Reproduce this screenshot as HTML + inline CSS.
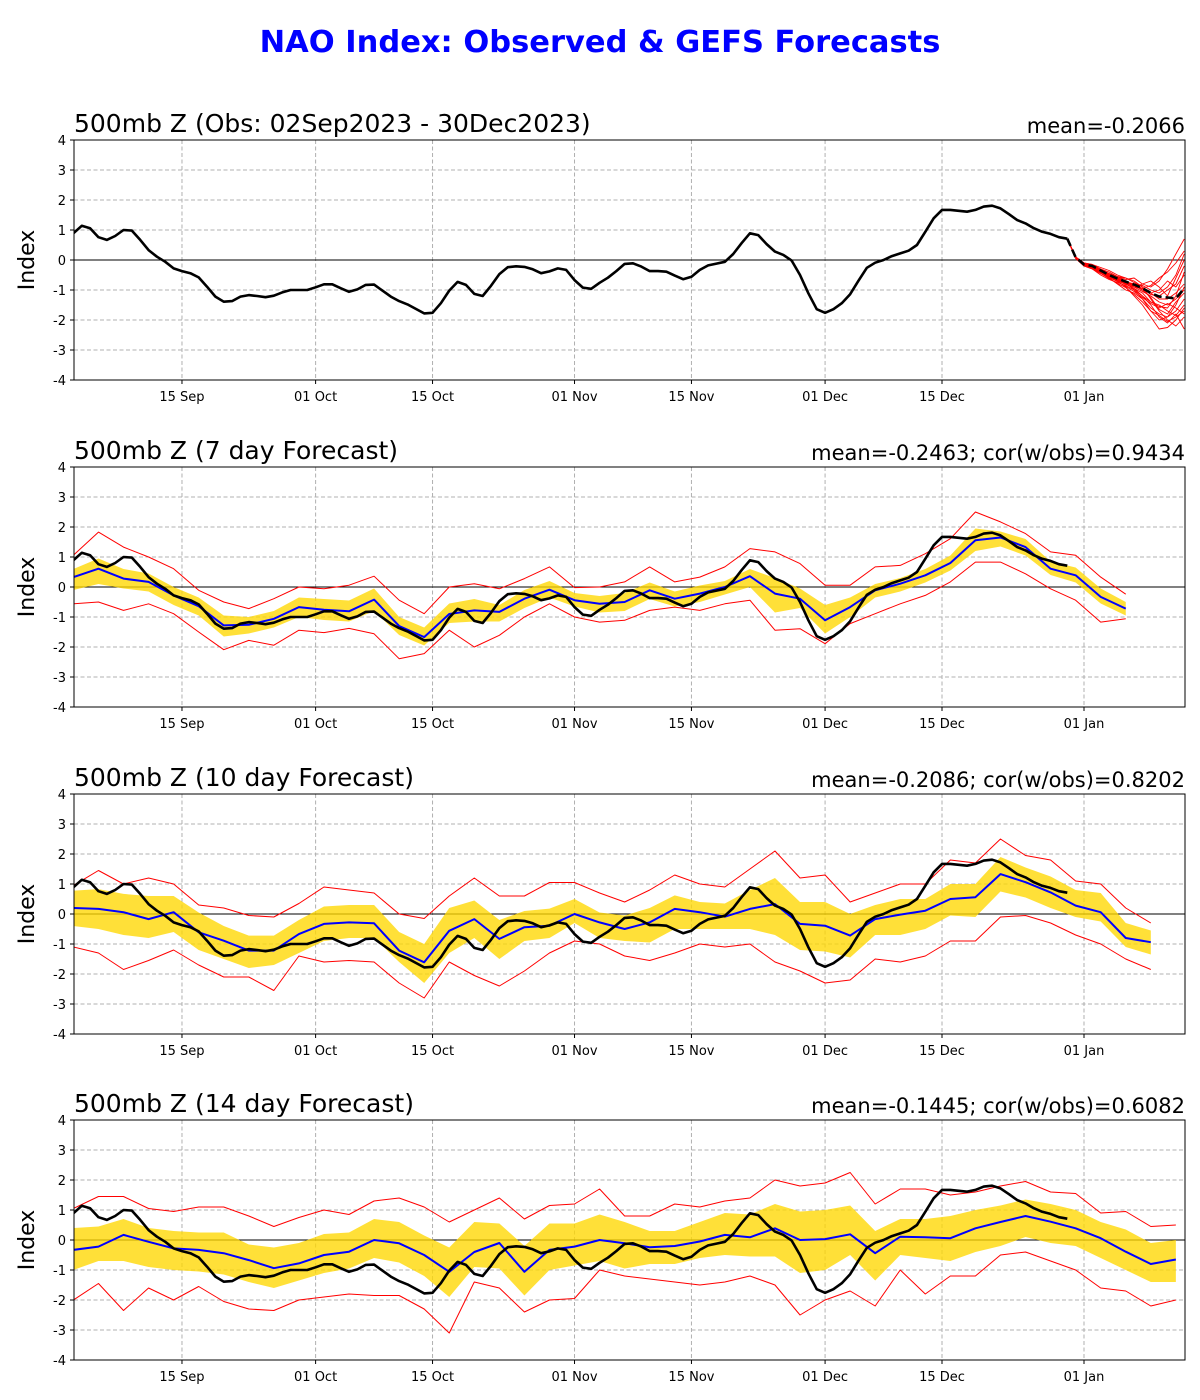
<!DOCTYPE html>
<html><head><meta charset="utf-8"><title>NAO Index</title>
<style>
html,body{margin:0;padding:0;background:#fff;}
svg{display:block;font-family:"DejaVu Sans","Liberation Sans",sans-serif;}
</style></head>
<body>
<svg id="chart" width="1200" height="1400" xmlns="http://www.w3.org/2000/svg">
<text x="600" y="52" text-anchor="middle" font-size="30.5" font-weight="bold" fill="#0000ff">NAO Index: Observed &amp; GEFS Forecasts</text>
</svg>
<script>
// ---- data ----
const xTickLabels = ["15 Sep","01 Oct","15 Oct","01 Nov","15 Nov","01 Dec","15 Dec","01 Jan"];
const xTickDays = [13,29,43,60,74,90,104,121];
const yTicks = [-4,-3,-2,-1,0,1,2,3,4];
const panelTitles = ["500mb Z (Obs: 02Sep2023 - 30Dec2023)","500mb Z (7 day Forecast)","500mb Z (10 day Forecast)","500mb Z (14 day Forecast)"];
const panelStats = ["mean=-0.2066","mean=-0.2463; cor(w/obs)=0.9434","mean=-0.2086; cor(w/obs)=0.8202","mean=-0.1445; cor(w/obs)=0.6082"];

const obs = [0.89,1.14,1.06,0.76,0.67,0.8,1.0,0.98,0.67,0.33,0.11,-0.06,-0.28,-0.37,-0.44,-0.58,-0.89,-1.22,-1.39,-1.37,-1.22,-1.17,-1.2,-1.24,-1.19,-1.08,-1.0,-1.0,-1.0,-0.91,-0.81,-0.81,-0.94,-1.06,-0.98,-0.83,-0.82,-1.02,-1.22,-1.37,-1.48,-1.63,-1.78,-1.76,-1.44,-1.02,-0.73,-0.83,-1.13,-1.2,-0.86,-0.47,-0.24,-0.21,-0.23,-0.31,-0.44,-0.38,-0.28,-0.33,-0.67,-0.92,-0.96,-0.76,-0.59,-0.37,-0.13,-0.11,
-0.22,-0.37,-0.37,-0.39,-0.52,-0.64,-0.56,-0.33,-0.18,-0.12,-0.06,0.2,0.56,0.89,0.83,0.53,0.28,0.17,-0.02,-0.5,-1.11,-1.64,-1.76,-1.64,-1.44,-1.14,-0.69,-0.26,-0.09,0,0.13,0.22,0.31,0.5,0.94,1.39,1.67,1.67,1.64,1.61,1.67,1.78,1.81,1.72,1.53,1.33,1.22,1.06,0.94,0.87,0.76,0.71];

// panel 1 ensemble forecast (days 119..133)
const fcStartDay = 119;
const fcMean = [0.71,0.09,-0.15,-0.2,-0.35,-0.5,-0.62,-0.72,-0.82,-0.94,-1.1,-1.22,-1.25,-1.28,-0.95];
const mem1 = [0.71,0.1,-0.1,-0.2,-0.3,-0.45,-0.55,-0.6,-0.7,-0.9,-1.3,-1.7,-2.0,-2.2,-1.9];
const mem2 = [0.71,0.05,-0.2,-0.3,-0.45,-0.6,-0.7,-0.9,-1.2,-1.5,-1.9,-2.3,-2.25,-2.0,-1.6];
const mem3 = [0.71,0.1,-0.1,-0.15,-0.3,-0.4,-0.55,-0.65,-0.6,-0.8,-0.9,-0.7,-0.3,0.2,0.7];
const mem4 = [0.71,0.08,-0.15,-0.25,-0.4,-0.55,-0.7,-0.8,-0.95,-1.1,-1.4,-1.55,-1.6,-1.2,-0.4];
const mem5 = [0.71,0.1,-0.12,-0.2,-0.3,-0.5,-0.6,-0.75,-0.8,-0.85,-1.0,-1.1,-0.9,-0.5,0.2];
const mem6 = [0.71,0.07,-0.18,-0.25,-0.4,-0.6,-0.8,-1.0,-1.1,-1.3,-1.6,-1.8,-1.9,-1.7,-1.3];
const mem7 = [0.71,0.1,-0.1,-0.15,-0.25,-0.35,-0.5,-0.6,-0.75,-0.9,-1.1,-1.3,-1.3,-1.1,-0.8];
const mem8 = [0.71,0.06,-0.2,-0.3,-0.5,-0.65,-0.75,-0.85,-1.0,-1.2,-1.4,-1.5,-1.7,-1.85,-1.5];
const mem9 = [0.71,0.1,-0.1,-0.2,-0.35,-0.45,-0.55,-0.7,-0.9,-0.8,-0.7,-0.9,-1.2,-0.6,0.0];
const mem10 = [0.71,0.09,-0.14,-0.22,-0.35,-0.55,-0.65,-0.8,-0.95,-1.2,-1.5,-1.9,-2.1,-1.8,-2.3];
const mem11 = [0.71,0.09,-0.16,-0.2,-0.38,-0.52,-0.6,-0.7,-0.85,-1.0,-1.1,-1.0,-0.7,-0.9,-0.5];
const mem12 = [0.71,0.1,-0.1,-0.25,-0.4,-0.5,-0.7,-0.75,-0.9,-1.05,-1.2,-1.4,-1.5,-1.3,-1.0];
const mem13 = [0.71,0.08,-0.12,-0.28,-0.42,-0.48,-0.58,-0.75,-1.0,-1.3,-1.7,-2.0,-1.9,-1.5,-0.9];
const mem14 = [0.71,0.1,-0.14,-0.18,-0.32,-0.5,-0.68,-0.82,-0.9,-0.95,-0.85,-0.6,-0.4,-0.1,0.3];
const mem15 = [0.71,0.07,-0.17,-0.27,-0.36,-0.58,-0.72,-0.88,-1.05,-1.25,-1.45,-1.6,-1.45,-1.6,-1.8];
const mem16 = [0.71,0.09,-0.13,-0.21,-0.33,-0.47,-0.62,-0.78,-0.85,-1.0,-1.25,-1.65,-1.8,-1.4,-1.1];
const mem17 = [0.71,0.1,-0.11,-0.19,-0.37,-0.53,-0.66,-0.72,-0.8,-0.95,-1.15,-1.2,-1.0,-0.8,-0.2];
const mem18 = [0.71,0.06,-0.19,-0.29,-0.44,-0.62,-0.78,-0.92,-1.15,-1.4,-1.7,-1.85,-2.05,-1.9,-1.7];

// forecast panels sampled every 3 days from day 0
const fcStepDays = 3;
const p2Blue = [0.33,0.61,0.28,0.17,-0.28,-0.64,-1.28,-1.26,-1.06,-0.67,-0.76,-0.81,-0.42,-1.3,-1.67,-0.9,-0.78,-0.83,-0.39,-0.09,-0.44,-0.56,-0.5,-0.11,-0.39,-0.22,0,0.36,-0.22,-0.39,-1.11,-0.67,-0.11,0.11,0.39,0.8,1.56,1.65,1.33,0.61,0.39,-0.33,-0.72];
const p2BandHi = [0.6,0.95,0.6,0.45,0.0,-0.35,-0.95,-1.0,-0.8,-0.35,-0.4,-0.45,-0.05,-1.0,-1.35,-0.55,-0.4,-0.6,-0.1,0.2,-0.2,-0.3,-0.2,0.15,-0.15,0.05,0.2,0.6,0.3,-0.05,-0.6,-0.35,0.1,0.3,0.6,1.05,1.95,1.85,1.6,0.85,0.65,-0.05,-0.5];
const p2BandLo = [-0.1,0.1,-0.05,-0.15,-0.6,-0.95,-1.65,-1.55,-1.35,-1.0,-1.1,-1.15,-0.8,-1.6,-1.95,-1.2,-1.15,-1.15,-0.7,-0.35,-0.65,-0.85,-0.8,-0.4,-0.65,-0.5,-0.25,0.0,-0.85,-0.7,-1.55,-1.0,-0.35,-0.15,0.15,0.55,1.2,1.35,1.05,0.4,0.15,-0.55,-0.95];
const p2RedHi = [1.06,1.83,1.33,1.0,0.61,-0.11,-0.5,-0.72,-0.39,0,-0.06,0.06,0.36,-0.44,-0.89,0,0.11,-0.06,0.28,0.67,-0.02,0,0.17,0.67,0.17,0.33,0.67,1.28,1.17,0.78,0.06,0.06,0.67,0.72,1.11,1.61,2.5,2.17,1.78,1.17,1.06,0.33,-0.24];
const p2RedLo = [-0.56,-0.5,-0.78,-0.56,-0.89,-1.5,-2.09,-1.78,-1.94,-1.44,-1.52,-1.38,-1.56,-2.39,-2.22,-1.44,-2.0,-1.61,-1.0,-0.56,-1.0,-1.17,-1.11,-0.78,-0.67,-0.78,-0.56,-0.44,-1.44,-1.39,-1.89,-1.22,-0.89,-0.56,-0.28,0.17,0.83,0.83,0.44,-0.06,-0.44,-1.17,-1.06];

const p3Blue = [0.2,0.17,0.06,-0.17,0.06,-0.61,-0.89,-1.22,-1.22,-0.67,-0.33,-0.28,-0.31,-1.22,-1.61,-0.56,-0.17,-0.83,-0.44,-0.39,0,-0.28,-0.5,-0.28,0.17,0.06,-0.09,0.17,0.33,-0.33,-0.39,-0.72,-0.17,-0.02,0.11,0.5,0.56,1.33,1.06,0.72,0.28,0.06,-0.8,-0.94];
const p3BandHi = [0.78,0.83,0.67,0.6,0.6,0.05,-0.4,-0.72,-0.72,-0.2,0.25,0.3,0.3,-0.6,-1.0,0.2,0.45,-0.2,0.1,0.18,0.5,0.05,-0.05,0.2,0.62,0.4,0.35,0.8,1.2,0.4,0.4,0.0,0.3,0.5,0.5,1.0,1.0,1.9,1.55,1.25,0.8,0.7,-0.3,-0.55];
const p3BandLo = [-0.4,-0.5,-0.7,-0.8,-0.6,-1.2,-1.5,-1.8,-1.7,-1.3,-0.9,-0.8,-0.8,-1.6,-2.3,-1.3,-0.8,-1.5,-0.9,-0.8,-0.3,-0.8,-0.9,-0.95,-0.5,-0.5,-0.5,-0.5,-0.7,-1.2,-1.25,-1.45,-0.7,-0.7,-0.5,-0.05,-0.1,0.75,0.55,0.2,-0.1,-0.25,-1.1,-1.35];
const p3RedHi = [0.95,1.45,1.0,1.2,1.0,0.3,0.2,-0.05,-0.1,0.35,0.9,0.8,0.7,0.0,-0.15,0.6,1.2,0.6,0.6,1.05,1.05,0.7,0.4,0.8,1.3,1.0,0.9,1.5,2.1,1.2,1.3,0.4,0.7,1.0,1.0,1.8,1.7,2.5,1.95,1.8,1.1,1.0,0.2,-0.3];
const p3RedLo = [-1.1,-1.3,-1.85,-1.55,-1.2,-1.7,-2.1,-2.1,-2.55,-1.4,-1.6,-1.55,-1.6,-2.3,-2.8,-1.6,-2.05,-2.4,-1.9,-1.3,-0.9,-1.0,-1.4,-1.55,-1.3,-1.0,-1.1,-1.0,-1.6,-1.9,-2.3,-2.2,-1.5,-1.6,-1.4,-0.9,-0.9,-0.1,-0.05,-0.3,-0.7,-1.0,-1.5,-1.85];

const p4Blue = [-0.33,-0.22,0.17,-0.06,-0.28,-0.33,-0.44,-0.67,-0.94,-0.78,-0.5,-0.39,0,-0.11,-0.5,-1.06,-0.4,-0.1,-1.06,-0.33,-0.22,0,-0.11,-0.24,-0.2,-0.05,0.17,0.09,0.39,0,0.03,0.19,-0.44,0.11,0.09,0.06,0.39,0.6,0.8,0.61,0.39,0.06,-0.39,-0.8,-0.65];
const p4BandHi = [0.4,0.45,0.7,0.4,0.3,0.25,0.25,-0.15,-0.25,-0.1,0.2,0.25,0.7,0.6,0.15,-0.25,0.6,0.55,-0.2,0.55,0.55,0.85,0.6,0.3,0.3,0.6,0.9,0.85,1.2,0.95,1.0,1.15,0.3,0.7,0.7,0.8,1.0,1.15,1.35,1.2,1.0,0.6,0.35,-0.1,0.0];
const p4BandLo = [-1.0,-0.7,-0.7,-0.9,-1.0,-1.05,-1.15,-1.4,-1.6,-1.35,-1.1,-0.95,-0.6,-0.75,-1.2,-1.9,-0.9,-0.95,-1.85,-1.0,-0.85,-0.7,-0.95,-0.8,-0.8,-0.6,-0.5,-0.55,-0.55,-1.1,-1.0,-0.5,-1.35,-0.5,-0.6,-0.7,-0.4,-0.2,0.1,-0.1,-0.2,-0.6,-1.0,-1.4,-1.4];
const p4RedHi = [1.05,1.45,1.45,1.05,0.95,1.1,1.1,0.8,0.45,0.75,1.0,0.85,1.3,1.4,1.1,0.6,1.0,1.4,0.7,1.15,1.2,1.7,0.8,0.8,1.2,1.1,1.3,1.4,2.0,1.8,1.9,2.25,1.2,1.7,1.7,1.5,1.6,1.8,1.95,1.6,1.55,0.9,0.95,0.45,0.5];
const p4RedLo = [-2.0,-1.45,-2.35,-1.6,-2.0,-1.55,-2.05,-2.3,-2.35,-2.0,-1.9,-1.8,-1.85,-1.85,-2.3,-3.1,-1.4,-1.6,-2.4,-2.0,-1.95,-1.0,-1.2,-1.3,-1.4,-1.5,-1.4,-1.2,-1.5,-2.5,-2.0,-1.7,-2.2,-1.0,-1.8,-1.2,-1.2,-0.5,-0.4,-0.7,-1.0,-1.6,-1.7,-2.2,-2.0];

// ---- layout ----
const NS = "http://www.w3.org/2000/svg";
const svg = document.getElementById("chart");
const AX_L = 74, AX_R = 1185, AX_H = 240;
const panelTops = [140, 467, 794, 1120];
const DAY0_X = 73.4, PX_PER_DAY = 8.352;
function xScale(d){ return DAY0_X + d * PX_PER_DAY; }
function yScale(v, top){ return top + (4 - v) / 8 * AX_H; }
function mk(tag, attrs, parent){
  const e = document.createElementNS(NS, tag);
  for (const k in attrs) e.setAttribute(k, attrs[k]);
  (parent || svg).appendChild(e);
  return e;
}
function pathFrom(days, vals, top){
  return vals.map((v,i)=>(i?"L":"M")+xScale(days[i]).toFixed(2)+","+yScale(v,top).toFixed(2)).join(" ");
}
const obsDays = obs.map((_,i)=>i);
const fcDays = fcMean.map((_,i)=>fcStartDay+i);
function stepDays(arr){ return arr.map((_,i)=>i*fcStepDays); }

const members = [mem1,mem2,mem3,mem4,mem5,mem6,mem7,mem8,mem9,mem10,mem11,mem12,mem13,mem14,mem15,mem16,mem17,mem18];
const forecastPanels = [
  {blue:p2Blue, hi:p2BandHi, lo:p2BandLo, rhi:p2RedHi, rlo:p2RedLo},
  {blue:p3Blue, hi:p3BandHi, lo:p3BandLo, rhi:p3RedHi, rlo:p3RedLo},
  {blue:p4Blue, hi:p4BandHi, lo:p4BandLo, rhi:p4RedHi, rlo:p4RedLo}
];

panelTops.forEach((top, pi) => {
  const g = mk("g", {});
  
  
  const clipId = "clip" + pi;
  const cp = mk("clipPath", {id: clipId}, g);
  mk("rect", {x: AX_L, y: top, width: AX_R-AX_L, height: AX_H}, cp);

  const t = mk("text", {x: AX_L, y: top-8, "font-size": 25, fill: "#000"}, g);
  t.textContent = panelTitles[pi];
  
  
  const s = mk("text", {x: AX_R, y: top-7, "font-size": 21, "text-anchor": "end", fill: "#000"}, g);
  s.textContent = panelStats[pi];
  
  
  const yl = mk("text", {x: 0, y: 0, "font-size": 22, "text-anchor": "middle", transform: "translate(34," + (top+AX_H/2) + ") rotate(-90)"}, g);
  yl.textContent = "Index";
  
  

  const grid = mk("g", {stroke: "#b0b0b0", "stroke-width": 1, "stroke-dasharray": "4,2.5"}, g);
  
  
  xTickDays.forEach((d, i) => {
    const x = xScale(d);
    mk("line", {x1: x, x2: x, y1: top, y2: top+AX_H}, grid);
    mk("line", {x1: x, x2: x, y1: top+AX_H, y2: top+AX_H+4, stroke: "#000"}, g);
    const lab = mk("text", {x: x, y: top+AX_H+21, "font-size": 13, "text-anchor": "middle"}, g);
    lab.textContent = xTickLabels[i];
    
    
  });
  yTicks.forEach(v => {
    const y = yScale(v, top);
    if (v > -4 && v < 4 && v !== 0) mk("line", {x1: AX_L, x2: AX_R, y1: y, y2: y}, grid);
    mk("line", {x1: AX_L-4, x2: AX_L, y1: y, y2: y, stroke: "#000"}, g);
    const lab = mk("text", {x: AX_L-8, y: y+5, "font-size": 13, "text-anchor": "end"}, g);
    lab.textContent = v;
    
    
  });
  mk("line", {x1: AX_L, x2: AX_R, y1: yScale(0,top), y2: yScale(0,top), stroke: "#000", "stroke-width": 1}, g);

  const plot = mk("g", {"clip-path": "url(#" + clipId + ")", fill: "none", "stroke-linejoin": "round"}, g);
  if (pi === 0) {
    members.forEach(m => {
      const p = mk("path", {d: pathFrom(fcDays, m, top), stroke: "#ff0000", "stroke-width": 0.9}, plot);
      
      
    });
    const o = mk("path", {d: pathFrom(obsDays, obs, top), stroke: "#000", "stroke-width": 2.6}, plot);
    
    
    const fm = mk("path", {d: pathFrom(fcDays, fcMean, top), stroke: "#000", "stroke-width": 2.6, "stroke-dasharray": "8,4"}, plot);
    
    
  } else {
    const fp = forecastPanels[pi-1];
    const days = stepDays(fp.blue);
    const band = mk("path", {d: pathFrom(days, fp.hi, top) + " " + pathFrom(days.slice().reverse(), fp.lo.slice().reverse(), top).replace("M","L") + " Z", fill: "#ffd700", "fill-opacity": 0.78, stroke: "none"}, plot);
    
    
    const rh = mk("path", {d: pathFrom(days, fp.rhi, top), stroke: "#ff0000", "stroke-width": 1}, plot);
    
    
    const rl = mk("path", {d: pathFrom(days, fp.rlo, top), stroke: "#ff0000", "stroke-width": 1}, plot);
    
    
    const b = mk("path", {d: pathFrom(days, fp.blue, top), stroke: "#0000ff", "stroke-width": 2}, plot);
    
    
    const o = mk("path", {d: pathFrom(obsDays, obs, top), stroke: "#000", "stroke-width": 2.6}, plot);
    
    
  }
  const frame = mk("rect", {x: AX_L, y: top, width: AX_R-AX_L, height: AX_H, fill: "none", stroke: "#000", "stroke-width": 1}, g);
  
  
});
</script>
</body></html>
